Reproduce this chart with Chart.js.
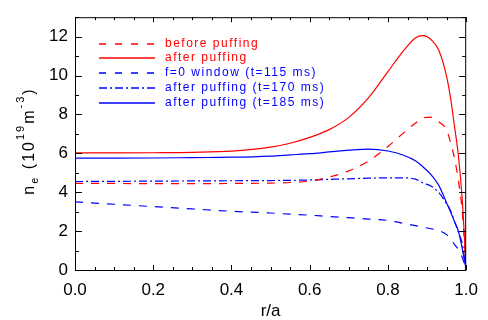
<!DOCTYPE html>
<html lang="en">
<head>
    <meta charset="UTF-8">
    <title>Density profiles</title>
    <script src="https://cdn.jsdelivr.net/npm/chart.js"></script>
    <style>
        body { margin: 0; background: #fff; }
    </style>
</head>
<body>
    <canvas id="myChart" width="488" height="320"></canvas>
    <script>
        // normalised radius r/a, shared by all profiles
        const rGrid = [0, 0.1, 0.2, 0.3, 0.4, 0.5, 0.55, 0.6, 0.65, 0.7, 0.75, 0.8, 0.84, 0.87, 0.89, 0.91, 0.93, 0.95, 0.96, 0.97, 0.98, 0.99, 1.0];

        // n_e in 1e19 m^-3
        const beforePuffing = [4.45, 4.45, 4.44, 4.44, 4.45, 4.47, 4.50, 4.57, 4.78, 5.10, 5.60, 6.35, 7.05, 7.55, 7.82, 7.86, 7.62, 7.20, 6.55, 5.75, 4.60, 3.00, 0];
        const afterPuffing = [6.02, 6.02, 6.03, 6.05, 6.11, 6.32, 6.52, 6.82, 7.22, 7.85, 8.85, 10.20, 11.28, 11.93, 12.05, 11.85, 11.30, 9.95, 8.85, 7.40, 5.90, 3.60, 0];
        const f0Window = [3.50, 3.38, 3.26, 3.14, 3.02, 2.93, 2.87, 2.82, 2.75, 2.69, 2.62, 2.55, 2.40, 2.28, 2.20, 2.12, 2.03, 1.82, 1.60, 1.32, 1.05, 0.65, 0];
        const after170 = [4.55, 4.56, 4.57, 4.58, 4.59, 4.60, 4.61, 4.63, 4.66, 4.69, 4.72, 4.74, 4.74, 4.67, 4.47, 4.32, 3.98, 3.40, 3.05, 2.50, 1.95, 1.35, 0];
        const after185 = [5.75, 5.75, 5.76, 5.78, 5.80, 5.86, 5.92, 5.98, 6.07, 6.16, 6.22, 6.12, 5.90, 5.62, 5.30, 4.90, 4.35, 3.45, 3.00, 2.50, 2.00, 1.10, 0];

        const seriesLabels = ['before puffing', 'after puffing', 'f=0 window (t=115 ms)', 'after puffing (t=170 ms)', 'after puffing (t=185 ms)'];
        const xTickValues = [0, 0.2, 0.4, 0.6, 0.8, 1.0];
        const yTickValues = [0, 2, 4, 6, 8, 10, 12];

        const RED = '#ff0000';
        const BLUE = '#0000ff';
        const FONT = "'Liberation Sans', Arial, sans-serif";

        const styles = [
            { color: RED, dash: [8, 8] },
            { color: RED, dash: [] },
            { color: BLUE, dash: [8, 8] },
            { color: BLUE, dash: [8, 3, 2, 3] },
            { color: BLUE, dash: [] }
        ];
        const values = [beforePuffing, afterPuffing, f0Window, after170, after185];

        const datasets = values.map((arr, i) => ({
            label: seriesLabels[i],
            data: arr.map((v, j) => ({ x: rGrid[j], y: v })),
            borderColor: styles[i].color,
            borderDash: styles[i].dash,
            borderWidth: 1.2,
            pointRadius: 0,
            fill: false,
            cubicInterpolationMode: 'monotone'
        }));

        // frame, inward ticks, legend and y title
        const decorations = {
            id: 'decorations',
            afterDraw(chart) {
                const ctx = chart.ctx;
                const { left, right, top, bottom } = chart.chartArea;
                const xs = chart.scales.x, ys = chart.scales.y;
                ctx.save();
                ctx.strokeStyle = '#000';
                ctx.lineWidth = 1;
                ctx.setLineDash([]);
                ctx.strokeRect(left + 0.5, top + 0.5, right - left - 1, bottom - top);

                ctx.beginPath();
                for (let i = 0; i <= 20; i++) {
                    const px = Math.round(xs.getPixelForValue(i / 20)) + 0.5;
                    const len = i % 4 === 0 ? 5 : 3;
                    ctx.moveTo(px, bottom); ctx.lineTo(px, bottom - len);
                    ctx.moveTo(px, top); ctx.lineTo(px, top + len);
                }
                for (let i = 0; i <= 13; i++) {
                    const py = Math.round(ys.getPixelForValue(i)) + 0.5;
                    const len = i % 2 === 0 ? 7 : 4;
                    ctx.moveTo(left, py); ctx.lineTo(left + len, py);
                    ctx.moveTo(right, py); ctx.lineTo(right - len, py);
                }
                ctx.stroke();

                // legend
                ctx.font = '12px ' + FONT;
                ctx.letterSpacing = '1.5px';
                ctx.textBaseline = 'middle';
                ctx.textAlign = 'left';
                seriesLabels.forEach((lab, i) => {
                    const y = Math.round(43.5 + i * 14.75);
                    ctx.strokeStyle = styles[i].color;
                    ctx.lineWidth = 1.5;
                    ctx.lineCap = 'butt';
                    ctx.setLineDash(i === 0 || i === 2 ? [7, 9] : styles[i].dash);
                    ctx.beginPath();
                    ctx.moveTo(99, y); ctx.lineTo(155, y);
                    ctx.stroke();
                    ctx.fillStyle = styles[i].color;
                    ctx.fillText(lab, 165, y);
                });

                // y axis title: n_e (10^19 m^-3)
                const parts = [
                    { t: 'n', size: 16, dy: 0 },
                    { t: 'e', size: 11, dy: 4 },
                    { t: ' (10', size: 16, dy: 0 },
                    { t: '19', size: 11, dy: -10 },
                    { t: 'm', size: 16, dy: 0 },
                    { t: '-3', size: 11, dy: -10 },
                    { t: ')', size: 16, dy: 0 }
                ];
                ctx.setLineDash([]);
                ctx.fillStyle = '#000';
                ctx.letterSpacing = '2px';
                ctx.textBaseline = 'alphabetic';
                let total = 0;
                parts.forEach(p => { ctx.font = p.size + 'px ' + FONT; p.w = ctx.measureText(p.t).width; total += p.w; });
                ctx.translate(34, 141);
                ctx.rotate(-Math.PI / 2);
                let cx = -total / 2;
                parts.forEach(p => {
                    ctx.font = p.size + 'px ' + FONT;
                    ctx.fillText(p.t, cx, p.dy);
                    cx += p.w;
                });
                ctx.restore();
            }
        };

        new Chart(document.getElementById('myChart'), {
            type: 'line',
            data: { datasets },
            options: {
                responsive: false,
                animation: false,
                layout: { padding: { top: 17, right: 20, left: 0, bottom: 0 } },
                plugins: { legend: { display: false }, tooltip: { enabled: false } },
                scales: {
                    x: {
                        type: 'linear',
                        min: 0,
                        max: 1,
                        afterBuildTicks: s => { s.ticks = xTickValues.map(v => ({ value: v })); },
                        afterFit: s => { s.height = 50; },
                        grid: { display: false, drawTicks: false },
                        border: { display: false },
                        ticks: {
                            callback: v => v.toFixed(1),
                            font: { size: 17, family: FONT },
                            color: '#000',
                            padding: 10,
                            maxRotation: 0,
                            autoSkip: false
                        },
                        title: {
                            display: true,
                            text: 'r/a',
                            color: '#000',
                            font: { size: 17, family: FONT, lineHeight: 1 },
                            padding: { top: 0, bottom: 0 }
                        }
                    },
                    y: {
                        min: 0,
                        max: 13,
                        afterBuildTicks: s => { s.ticks = yTickValues.map(v => ({ value: v })); },
                        afterFit: s => { s.width = 75; },
                        grid: { display: false, drawTicks: false },
                        border: { display: false },
                        ticks: {
                            callback: v => String(v),
                            font: { size: 17, family: FONT },
                            color: '#000',
                            padding: 7,
                            autoSkip: false
                        }
                    }
                }
            },
            plugins: [decorations]
        });
    </script>
</body>
</html>
